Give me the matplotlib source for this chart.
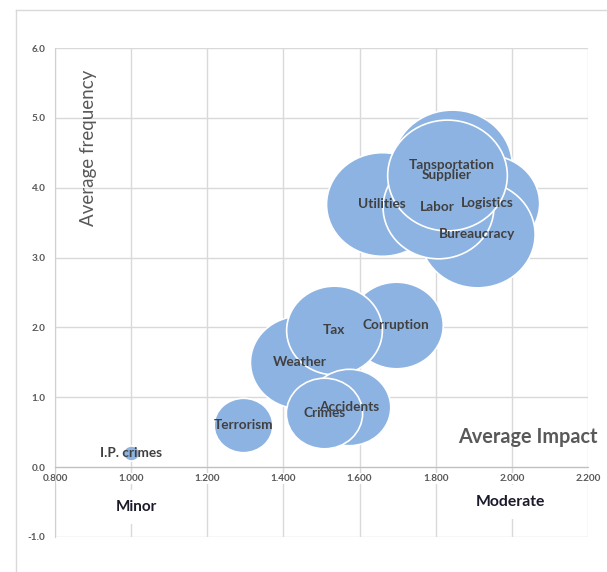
import matplotlib
matplotlib.use('Agg')
import matplotlib.pyplot as plt
import matplotlib.path as mpath
from matplotlib.transforms import Affine2D
from matplotlib.lines import Line2D

plt.rcParams['font.family'] = ['Lato', 'DejaVu Sans']

# Datos de los riesgos (impacto medio, frecuencia media, tamaño burbuja)
risks = ['I.P. crimes', 'Terrorism', 'Weather', 'Corruption', 'Tax',
         'Accidents', 'Crimes', 'Tansportation', 'Logistics', 'Bureaucracy',
         'Utilities', 'Labor', 'Supplier']
impact = [1.000, 1.294, 1.444, 1.696, 1.533,
          1.572, 1.507, 1.843, 1.935, 1.908,
          1.659, 1.805, 1.830]
frequency = [0.20, 0.60, 1.51, 2.03, 1.96,
             0.86, 0.78, 4.33, 3.78, 3.34,
             3.77, 3.72, 4.18]
bubble_size = [0.56, 7.3, 21.2, 18.5, 19.4,
               14.4, 12.3, 30.3, 23.0, 28.1,
               26.5, 26.0, 30.3]

x_ticks = [0.8, 1.0, 1.2, 1.4, 1.6, 1.8, 2.0, 2.2]
y_ticks = [-1.0, 0.0, 1.0, 2.0, 3.0, 4.0, 5.0, 6.0]

fig = plt.figure(figsize=(6.07, 5.72), dpi=100)
ax = fig.add_axes([55 / 607, 1 - 537 / 572, 533 / 607, 489 / 572])

# marcador ligeramente ovalado como en la imagen
circ = mpath.Path.unit_circle()
oval = Affine2D().scale(1.08, 1.0).transform_path(circ)

for i in range(len(risks)):
    ax.scatter(impact[i], frequency[i], s=bubble_size[i] * 245, marker=oval,
               color='#8db3e2', edgecolors='white', linewidths=1.2, zorder=3 + i)

for i in range(len(risks)):
    ax.text(impact[i], frequency[i], risks[i], ha='center', va='center',
            fontsize=9.8, fontweight='bold', color='#404040', zorder=30)

ax.set_xlim(0.8, 2.2)
ax.set_ylim(-1.0, 6.0)
ax.set_xticks(x_ticks)
ax.set_yticks(y_ticks)
ax.set_xticklabels(['%.3f' % v for v in x_ticks])
ax.set_yticklabels(['%.1f' % v for v in y_ticks])
ax.grid(True, color='#d9d9d9', linewidth=1)
ax.set_axisbelow(True)

for s in ['top', 'right']:
    ax.spines[s].set_visible(False)
ax.spines['bottom'].set_position(('data', 0))
ax.spines['bottom'].set_color('#bfbfbf')
ax.spines['left'].set_color('#d0d0d0')
ax.tick_params(axis='x', length=0, pad=5, labelsize=7.2, labelcolor='#595959')
ax.tick_params(axis='y', length=0, pad=7, labelsize=7.2, labelcolor='#595959')
for lab in ax.get_xticklabels() + ax.get_yticklabels():
    lab.set_fontweight('bold')
for lab in ax.get_xticklabels():
    lab.set_bbox(dict(facecolor='white', edgecolor='none', pad=1))

ax.text(0.887, 4.57, 'Average frequency', rotation=90, ha='center', va='center',
        fontsize=13.5, color='#595959', zorder=40)
ax.text(2.042, 0.43, 'Average Impact', ha='center', va='center',
        fontsize=14.3, fontweight='bold', color='#595959', zorder=40, clip_on=False)
ax.text(1.013, -0.57, 'Minor', ha='center', va='center', fontsize=11,
        fontweight='bold', color='#1a1a2a', zorder=40,
        bbox=dict(facecolor='white', edgecolor='none', pad=7))
ax.text(1.995, -0.50, 'Moderate', ha='center', va='center', fontsize=11.3,
        fontweight='bold', color='#1a1a2a', zorder=40,
        bbox=dict(facecolor='white', edgecolor='none', pad=7))

# borde del area del grafico
fig.add_artist(Line2D([16 / 607, 1], [1 - 10 / 572, 1 - 10 / 572], color='#d9d9d9', lw=1))
fig.add_artist(Line2D([16 / 607, 16 / 607], [0, 1 - 10 / 572], color='#d9d9d9', lw=1))

fig.savefig('out.png', dpi=100)
